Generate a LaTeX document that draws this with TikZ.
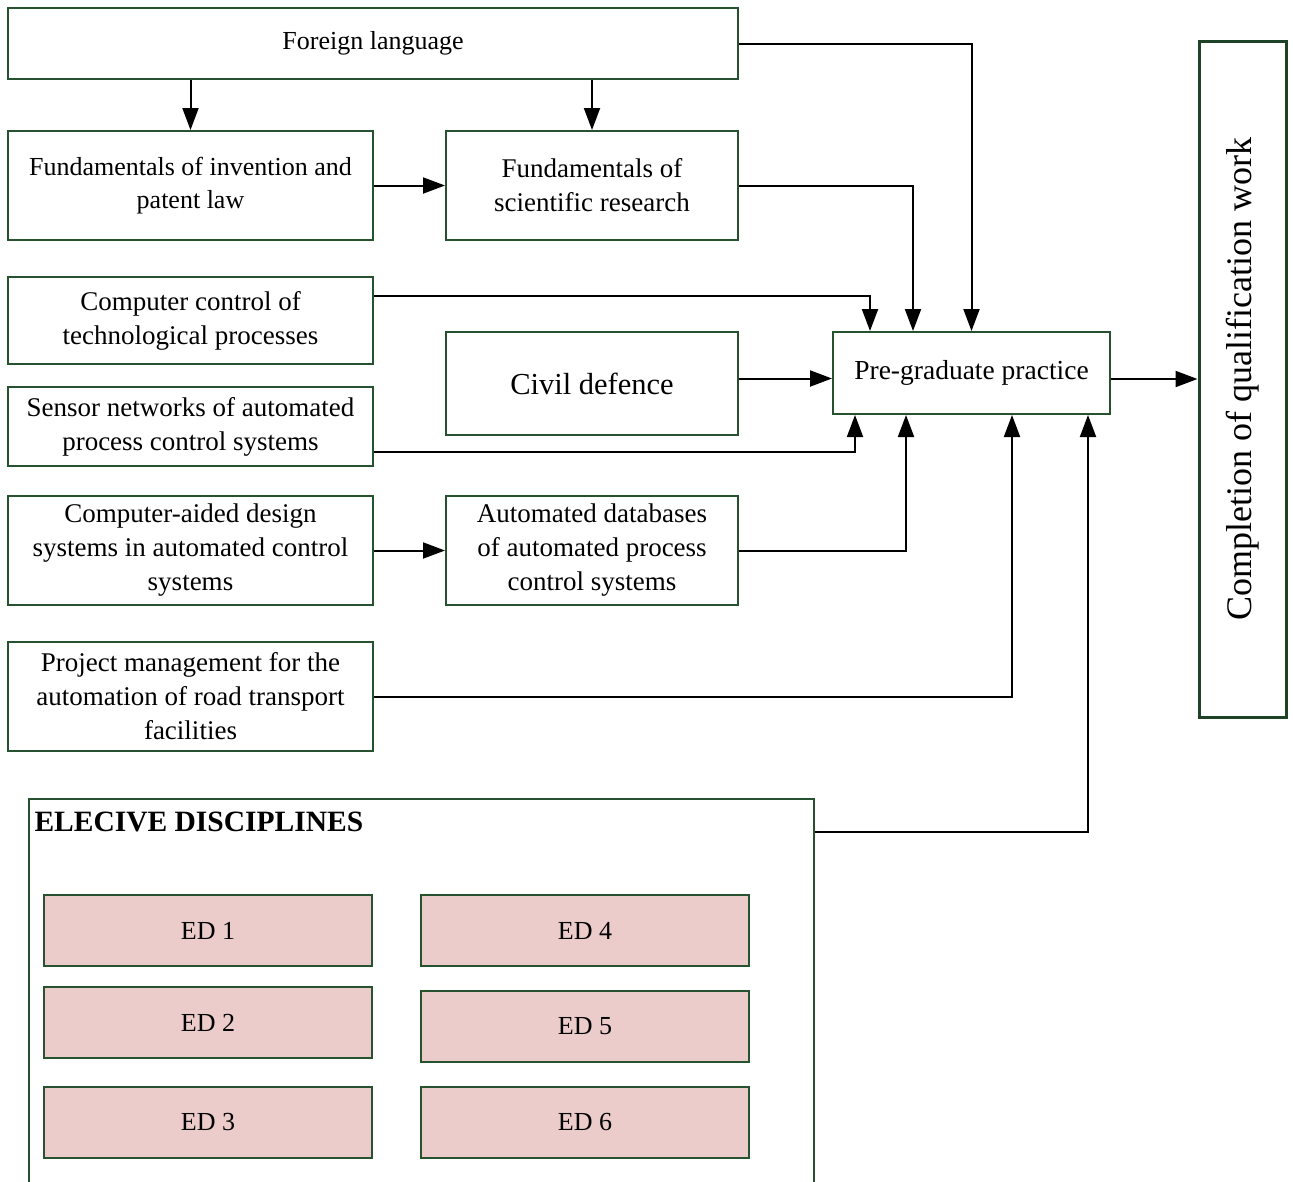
\documentclass[tikz,border=0pt]{standalone}
\usepackage{fontspec}
\setmainfont{Liberation Serif}
\usetikzlibrary{arrows.meta}
\definecolor{boxgreen}{RGB}{38,82,48}
\definecolor{edpink}{RGB}{235,204,202}
\begin{document}
\begin{tikzpicture}[x=1pt, y=-1pt,
    discipline/.style ={rectangle, draw=boxgreen, line width=2pt, inner sep=0pt, align=center, font=\fontsize{27}{34}\selectfont},
    wide/.style ={minimum width=365pt, minimum height=109pt},
    narrow/.style ={minimum width=292pt, minimum height=109pt},
    elective/.style ={discipline, fill=edpink, minimum width=328pt, minimum height=71pt, font=\fontsize{26}{30}\selectfont},
    link/.style ={line width=2pt, -{Triangle[length=22pt,width=16pt]}}]
   \useasboundingbox (0,0) rectangle (1293,1181);

   \node[discipline, minimum width=730pt, minimum height=71pt, font=\fontsize{26}{32}\selectfont] (FL) at (373,43.5) {Foreign language};
   \node[discipline, wide, font=\fontsize{26}{33}\selectfont] (FI) at (190.5,185.5) {Fundamentals of invention and\\patent law};
   \node[discipline, narrow] (FS) at (592,185.5) {Fundamentals of\\scientific research};
   \node[discipline, wide, minimum height=87pt] (CC) at (190.5,320.5) {Computer control of\\technological processes};
   \node[discipline, narrow, minimum height=103pt, font=\fontsize{30.5}{36}\selectfont] (CD) at (592,383.5) {Civil defence};
   \node[discipline, wide, minimum height=79pt] (SN) at (190.5,426.5) {Sensor networks of automated\\process control systems};
   \node[discipline, wide] (CAD) at (190.5,550.5) {Computer-aided design\\systems in automated control\\systems};
   \node[discipline, narrow] (DB) at (592,550.5) {Automated databases\\of automated process\\control systems};
   \node[discipline, wide] (PM) at (190.5,696.5) {Project management for the\\automation of road transport\\facilities};
   \node[discipline, minimum width=277pt, minimum height=82pt, font=\fontsize{27.5}{32}\selectfont] (PG) at (971.5,373) {Pre-graduate practice};
   \node[discipline, minimum width=87pt, minimum height=676pt, line width=3pt, draw=boxgreen!80!black] (CW) at (1242.5,379) {};
   \node[rotate=90, font=\fontsize{36}{40}\selectfont] (CWtext) at (CW.center) {Completion of qualification work};

   % elective block, open at the bottom of the page
   \node[discipline, minimum width=785pt, minimum height=401pt] (EL) at (421.5,999.5) {};
   \node[anchor=west, font=\bfseries\fontsize{29.5}{32}\selectfont] (ELtitle) at (31,822) {ELECIVE DISCIPLINES};
   \node[elective] (ED1) at (208,930.5) {ED 1};
   \node[elective] (ED2) at (208,1022.5) {ED 2};
   \node[elective] (ED3) at (208,1122.5) {ED 3};
   \node[elective] (ED4) at (585,930.5) {ED 4};
   \node[elective] (ED5) at (585,1026.5) {ED 5};
   \node[elective] (ED6) at (585,1122.5) {ED 6};

   \draw[link] (FI.north |- FL.south) to (FI.north);
   \draw[link] (FS.north |- FL.south) to (FS.north);
   \draw[link] (FI) to (FS);
   \draw[link] (CAD) to (DB);

   \draw[link] (FL.east) -| (PG.north);
   \draw[link] (FS.east) -| ([xshift=-58.5pt]PG.north);
   \draw[link] ([yshift=24.5pt]CC.east) -| ([xshift=-101.5pt]PG.north);
   \draw[link] ([yshift=5pt]CD.east) to ([yshift=5pt]CD.east -| PG.west);
   \draw[link] ([yshift=-25.5pt]SN.east) -| ([xshift=-116.5pt]PG.south);
   \draw[link] (DB.east) -| ([xshift=-65.5pt]PG.south);
   \draw[link] (PM.east) -| ([xshift=40.5pt]PG.south);
   \draw[link] ([yshift=-34pt]EL.north east) -| ([xshift=116.5pt]PG.south);
   \draw[link] (CW.west -| PG.east) to (CW.west);
 \end{tikzpicture}
\end{document}
